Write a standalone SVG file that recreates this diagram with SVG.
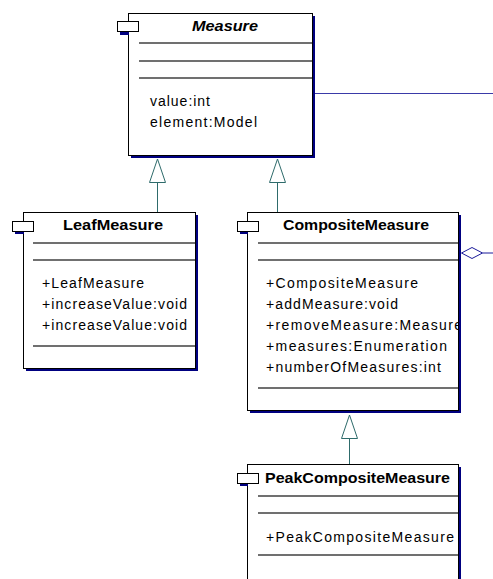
<svg xmlns="http://www.w3.org/2000/svg" width="493" height="579" viewBox="0 0 493 579">
  <style>
    .box{fill:#fff;stroke:#000;stroke-width:1}
    .shadow{fill:#000080}
    .tab{fill:#fff;stroke:#000;stroke-width:1}
    .sep{stroke:#404040;stroke-width:1.5}
    .title{font-family:"Liberation Sans",Arial,sans-serif;font-size:14px;font-weight:bold;fill:#000}
    .member{font-family:"Liberation Sans",Arial,sans-serif;font-size:14px;fill:#000}
    .gen{stroke:#2e6b6b;stroke-width:1;fill:none}
    .genhead{stroke:#2e6b6b;stroke-width:1;fill:#fff}
    .assoc{stroke:#3a3aa8;stroke-width:1;fill:none}
    .agg{stroke:#1a1a9a;stroke-width:1;fill:#fff}
  </style>
  <rect width="493" height="579" fill="#fff"/>

  <!-- Measure -->
  <g id="Measure">
    <rect class="shadow" x="131" y="16" width="184" height="142"/>
    <rect class="box" x="128.5" y="13.5" width="184" height="142"/>
    <rect class="shadow" x="120" y="25" width="9" height="10"/>
    <rect class="tab" x="117.5" y="21.5" width="21" height="10"/>
    <text class="title" x="225" y="31" text-anchor="middle" font-style="italic" textLength="66" lengthAdjust="spacingAndGlyphs">Measure</text>
    <line class="sep" x1="139" y1="43" x2="312" y2="43"/>
    <line class="sep" x1="139" y1="61" x2="312" y2="61"/>
    <line class="sep" x1="139" y1="78" x2="312" y2="78"/>
    <text class="member" x="150" y="106" textLength="60" lengthAdjust="spacing">value:int</text>
    <text class="member" x="150" y="127" textLength="107" lengthAdjust="spacing">element:Model</text>
  </g>

  <!-- LeafMeasure -->
  <g id="LeafMeasure">
    <rect class="shadow" x="26" y="215" width="172" height="156"/>
    <rect class="box" x="23.5" y="212.5" width="172" height="156"/>
    <rect class="shadow" x="15" y="224" width="9" height="10"/>
    <rect class="tab" x="12.5" y="221.5" width="21" height="10"/>
    <text class="title" x="113" y="230" text-anchor="middle" textLength="100" lengthAdjust="spacingAndGlyphs">LeafMeasure</text>
    <line class="sep" x1="33" y1="243" x2="195" y2="243"/>
    <line class="sep" x1="33" y1="260" x2="195" y2="260"/>
    <text class="member" x="42" y="288" textLength="102" lengthAdjust="spacing">+LeafMeasure</text>
    <text class="member" x="42" y="309" textLength="145" lengthAdjust="spacing">+increaseValue:void</text>
    <text class="member" x="42" y="330" textLength="145" lengthAdjust="spacing">+increaseValue:void</text>
    <line class="sep" x1="33" y1="346" x2="195" y2="346"/>
  </g>

  <!-- CompositeMeasure -->
  <g id="CompositeMeasure">
    <rect class="shadow" x="250" y="215" width="211" height="198"/>
    <rect class="box" x="247.5" y="212.5" width="211" height="198"/>
    <rect class="shadow" x="240" y="224" width="8" height="10"/>
    <rect class="tab" x="237.5" y="221.5" width="21" height="10"/>
    <text class="title" x="356" y="230" text-anchor="middle" textLength="146" lengthAdjust="spacingAndGlyphs">CompositeMeasure</text>
    <line class="sep" x1="258" y1="243" x2="458" y2="243"/>
    <line class="sep" x1="258" y1="260" x2="458" y2="260"/>
    <!-- member rows are clipped at the class border -->
    <svg x="248" y="262" width="210" height="120" overflow="hidden">
      <text class="member" x="18" y="26" textLength="152" lengthAdjust="spacing">+CompositeMeasure</text>
      <text class="member" x="18" y="47" textLength="132" lengthAdjust="spacing">+addMeasure:void</text>
      <text class="member" x="18" y="68" textLength="196" lengthAdjust="spacing">+removeMeasure:Measure</text>
      <text class="member" x="18" y="89" textLength="181" lengthAdjust="spacing">+measures:Enumeration</text>
      <text class="member" x="18" y="110" textLength="175" lengthAdjust="spacing">+numberOfMeasures:int</text>
    </svg>
    <line class="sep" x1="258" y1="388" x2="458" y2="388"/>
  </g>

  <!-- PeakCompositeMeasure -->
  <g id="PeakCompositeMeasure">
    <rect class="shadow" x="250" y="467" width="211" height="120"/>
    <rect class="box" x="247.5" y="464.5" width="211" height="120"/>
    <rect class="shadow" x="240" y="476" width="8" height="10"/>
    <rect class="tab" x="237.5" y="473.5" width="21" height="10"/>
    <text class="title" x="265" y="483" textLength="185" lengthAdjust="spacingAndGlyphs">PeakCompositeMeasure</text>
    <line class="sep" x1="258" y1="496" x2="458" y2="496"/>
    <line class="sep" x1="258" y1="513" x2="458" y2="513"/>
    <text class="member" x="266" y="542" textLength="188" lengthAdjust="spacing">+PeakCompositeMeasure</text>
    <line class="sep" x1="258" y1="555" x2="458" y2="555"/>
  </g>

  <!-- Connectors -->
  <g id="connectors">
    <line class="gen" x1="157.5" y1="183" x2="157.5" y2="212"/>
    <polygon class="genhead" points="157.5,159 149.5,182.5 165.5,182.5"/>
    <line class="gen" x1="277.5" y1="183" x2="277.5" y2="212"/>
    <polygon class="genhead" points="277.5,159 269.5,182.5 285.5,182.5"/>
    <line class="gen" x1="349.5" y1="438" x2="349.5" y2="464"/>
    <polygon class="genhead" points="349.5,415 341.5,438.5 357.5,438.5"/>
    <line class="assoc" x1="315" y1="93.5" x2="493" y2="93.5"/>
    <polygon class="agg" points="461.5,253 472,247.5 482.5,253 472,258.5"/>
    <line class="agg" x1="482.5" y1="253" x2="493" y2="253"/>
  </g>
</svg>
